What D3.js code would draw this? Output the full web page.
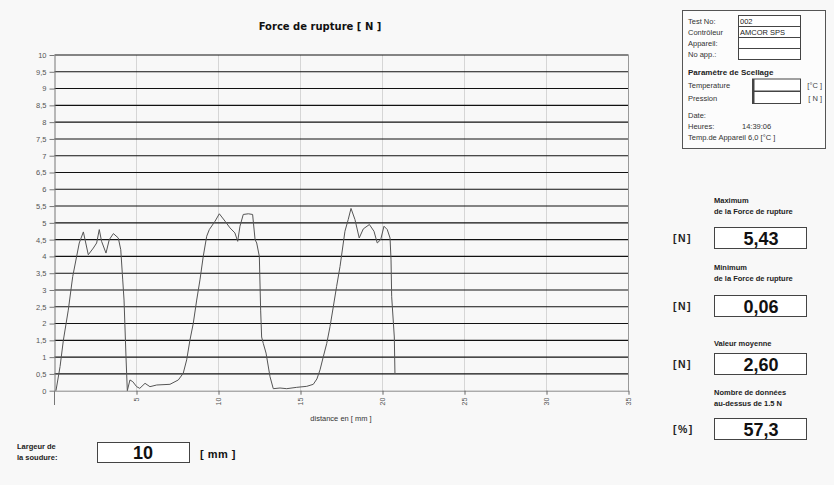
<!DOCTYPE html>
<html>
<head>
<meta charset="utf-8">
<script src="https://cdn.jsdelivr.net/npm/d3@7"></script>
<style>
  body { margin: 0; background: #f8f8f8; }
  svg { display: block; font-family: "Liberation Sans", Arial, sans-serif; }
</style>
</head>
<body>
<div id="chart"></div>
<script>
// Data: distance [mm] and force [N]
const distance = [0.09, 0.34, 0.54, 0.84, 1.11, 1.35, 1.51, 1.76, 2.06, 2.37, 2.57, 2.73, 2.87, 3.14, 3.34, 3.59, 3.89, 4.04, 4.16, 4.24, 4.36, 4.44,
  4.6, 4.77, 5.01, 5.2, 5.52, 5.82, 6.23, 7.04, 7.55, 7.85, 8.06, 8.26, 8.46, 8.67, 8.87, 9.07, 9.28, 9.44, 9.79, 10.05,
  10.4, 10.7, 11.0, 11.17, 11.31, 11.51, 11.82, 12.08, 12.23, 12.33, 12.49, 12.57, 12.63, 12.73, 12.9, 13.14, 13.34,
  13.75, 14.16, 14.77, 15.38, 15.78, 16.0, 16.19, 16.39, 16.6, 16.8, 17.0, 17.2, 17.41, 17.61, 17.71, 17.91, 18.08,
  18.32, 18.58, 18.83, 19.2, 19.48, 19.68, 19.89, 20.09, 20.29, 20.46, 20.52, 20.56, 20.72, 20.76];
const force = [0, 0.72, 1.5, 2.4, 3.4, 4.0, 4.4, 4.73, 4.05, 4.25, 4.4, 4.8, 4.45, 4.1, 4.5, 4.68, 4.55, 4.2, 3.3, 2.7, 1.0, 0,
  0.32, 0.27, 0.12, 0.07, 0.22, 0.12, 0.17, 0.19, 0.32, 0.52, 0.92, 1.51, 2.0, 2.7, 3.3, 4.0, 4.6, 4.8, 5.05, 5.27,
  5.05, 4.85, 4.7, 4.45, 4.9, 5.25, 5.27, 5.25, 4.5, 4.4, 4.0, 2.4, 1.6, 1.41, 1.12, 0.42, 0.06,
  0.08, 0.06, 0.1, 0.13, 0.19, 0.35, 0.62, 1.01, 1.41, 1.91, 2.5, 3.1, 3.7, 4.4, 4.75, 5.1, 5.43,
  5.1, 4.55, 4.82, 4.95, 4.75, 4.4, 4.5, 4.9, 4.8, 4.55, 3.9, 2.8, 1.6, 0.5];

const yTicks = d3.range(0, 10.01, 0.5);
const xTicks = [5, 10, 15, 20, 25, 30, 35];

// Info panel texts
const infoRows = ["Test No:", "Contrôleur", "Appareil:", "No app.:"];
const infoValues = ["002", "AMCOR SPS", "", ""];
const statLabels = [["Maximum", "de la Force de rupture"], ["Minimum", "de la Force de rupture"], ["Valeur moyenne"], ["Nombre de données", "au-dessus de 1.5 N"]];
const statUnits = ["[N]", "[N]", "[N]", "[%]"];
const statValues = ["5,43", "0,06", "2,60", "57,3"];

const W = 834, H = 485;
const plot = { left: 54.5, right: 628.5, top: 55, bottom: 390.7 };

const svg = d3.select("#chart").append("svg")
    .attr("width", W)
    .attr("height", H);

svg.append("rect").attr("width", W).attr("height", H).attr("fill", "#f8f8f8");

const x = d3.scaleLinear().domain([0, 35]).range([plot.left, plot.right]);
const y = d3.scaleLinear().domain([0, 10]).range([plot.bottom, plot.top]);
const fmt = v => String(v).replace(".", ",");

// Title
svg.append("text")
    .attr("x", 320).attr("y", 30)
    .attr("text-anchor", "middle")
    .attr("font-family", "DejaVu Sans, sans-serif")
    .attr("font-size", 10).attr("font-weight", "bold")
    .attr("fill", "#111")
    .text("Force de rupture [ N ]");

// vertical grid
svg.append("g").selectAll("line")
  .data(xTicks.slice(0, -1))
  .join("line")
    .attr("x1", d => x(d)).attr("x2", d => x(d))
    .attr("y1", plot.top).attr("y2", plot.bottom)
    .attr("stroke", "#d6d6d6");

// horizontal grid
svg.append("g").selectAll("line")
  .data(yTicks.slice(1))
  .join("line")
    .attr("x1", plot.left).attr("x2", plot.right)
    .attr("y1", d => y(d)).attr("y2", d => y(d))
    .attr("stroke", "#111").attr("stroke-width", 1.1);

// right border
svg.append("line").attr("x1", plot.right).attr("x2", plot.right)
    .attr("y1", plot.top).attr("y2", plot.bottom).attr("stroke", "#999");

// y axis
const yAxis = svg.append("g")
    .attr("transform", `translate(${plot.left},0)`)
    .call(d3.axisLeft(y).tickValues(yTicks).tickFormat(fmt).tickSize(5).tickSizeOuter(0).tickPadding(3));
yAxis.select(".domain").attr("stroke", "#777");
yAxis.selectAll(".tick line").attr("stroke", "#777");
yAxis.selectAll("text").attr("font-size", 7.5).attr("fill", "#555")
    .attr("font-family", "Liberation Sans, Arial, sans-serif");

svg.append("line").attr("x1", plot.left).attr("x2", plot.left)
    .attr("y1", plot.bottom).attr("y2", 405).attr("stroke", "#777");

// x axis
const xAxis = svg.append("g")
    .attr("transform", `translate(0,${plot.bottom})`)
    .call(d3.axisBottom(x).tickValues(xTicks).tickSize(4).tickSizeOuter(0).tickFormat(d3.format("d")));
xAxis.select(".domain").attr("stroke", "#888");
xAxis.selectAll(".tick line").attr("stroke", "#666");
xAxis.selectAll("text")
    .attr("font-size", 7).attr("fill", "#555")
    .attr("font-family", "Liberation Sans, Arial, sans-serif")
    .attr("text-anchor", "end")
    .attr("transform", "rotate(-90)")
    .attr("x", -7).attr("y", 0).attr("dy", "0.35em");

svg.append("text")
    .attr("x", 341).attr("y", 421)
    .attr("text-anchor", "middle")
    .attr("font-size", 7.5).attr("fill", "#333")
    .text("distance en [ mm ]");

// curve
const pts = distance.map((d, i) => [d, force[i]]);
svg.append("path")
    .datum(pts)
    .attr("fill", "none")
    .attr("stroke", "#555")
    .attr("stroke-width", 1)
    .attr("d", d3.line().x(d => x(d[0])).y(d => y(d[1])));

// bottom: weld width
svg.append("text").attr("x", 17).attr("y", 449)
    .attr("font-size", 7.5).attr("font-weight", "bold").attr("fill", "#222").text("Largeur de");
svg.append("text").attr("x", 17).attr("y", 460)
    .attr("font-size", 7.5).attr("font-weight", "bold").attr("fill", "#222").text("la soudure:");
svg.append("rect").attr("x", 97.5).attr("y", 442.5).attr("width", 92).attr("height", 20)
    .attr("fill", "#fff").attr("stroke", "#444");
svg.append("text").attr("x", 143).attr("y", 459).attr("text-anchor", "middle")
    .attr("font-size", 18).attr("font-weight", "bold").attr("fill", "#111").text("10");
svg.append("text").attr("x", 200).attr("y", 458)
    .attr("font-size", 11).attr("font-weight", "bold").attr("fill", "#111").attr("letter-spacing", 0.5).text("[ mm ]");

// info panel
const info = svg.append("g").attr("font-size", 7.5).attr("fill", "#333");
info.append("rect").attr("x", 682.5).attr("y", 10.5).attr("width", 143).attr("height", 138)
    .attr("fill", "#fcfcfc").attr("stroke", "#555");
infoRows.forEach((t, i) => {
  const cy = 21 + i * 11;
  info.append("text").attr("x", 688).attr("y", cy + 3).attr("fill", "#333").text(t);
  info.append("rect").attr("x", 738.5).attr("y", cy - 5.5).attr("width", 62).attr("height", 11)
      .attr("fill", "#fff").attr("stroke", "#444");
  info.append("text").attr("x", 740).attr("y", cy + 3).attr("fill", "#222").text(infoValues[i]);
});
info.append("text").attr("x", 688).attr("y", 75).attr("font-weight", "bold").attr("font-size", 8)
    .attr("fill", "#222").text("Paramètre de Scellage");
[["Temperature", "[°C ]", 85], ["Pression", "[ N ]", 97.5]].forEach(([lab, unit, cy]) => {
  info.append("text").attr("x", 688).attr("y", cy + 3).attr("fill", "#333").text(lab);
  info.append("rect").attr("x", 752.5).attr("y", cy - 6).attr("width", 48).attr("height", 12)
      .attr("fill", "#fff").attr("stroke", "#444");
  info.append("line").attr("x1", 753.5).attr("x2", 753.5).attr("y1", cy - 6).attr("y2", cy + 6)
      .attr("stroke", "#444").attr("stroke-width", 2);
  info.append("text").attr("x", 822).attr("y", cy + 3).attr("text-anchor", "end").attr("fill", "#444").text(unit);
});
info.append("text").attr("x", 688).attr("y", 118).text("Date:");
info.append("text").attr("x", 688).attr("y", 129).text("Heures:");
info.append("text").attr("x", 742).attr("y", 129).text("14:39:06");
info.append("text").attr("x", 688).attr("y", 140).text("Temp.de Appareil 6,0 [°C ]");

// statistics boxes
const boxTops = [227, 295, 353, 418];
const labelTops = [203, 270, 346, 395];
statValues.forEach((v, i) => {
  statLabels[i].forEach((l, j) => {
    svg.append("text").attr("x", 714).attr("y", labelTops[i] + j * 11)
        .attr("font-size", 7.5).attr("font-weight", "bold")
        .attr("fill", "#222").text(l);
  });
  svg.append("text").attr("x", 673).attr("y", boxTops[i] + 15)
      .attr("font-size", 10.5).attr("font-weight", "bold").attr("letter-spacing", 1.5)
      .attr("fill", "#222").text(statUnits[i]);
  svg.append("rect").attr("x", 714.5).attr("y", boxTops[i] + 0.5).attr("width", 92).attr("height", 21)
      .attr("fill", "#fff").attr("stroke", "#444");
  svg.append("text").attr("x", 761).attr("y", boxTops[i] + 17.5).attr("text-anchor", "middle")
      .attr("font-size", 18).attr("font-weight", "bold").attr("fill", "#111").text(v);
});
</script>
</body>
</html>
